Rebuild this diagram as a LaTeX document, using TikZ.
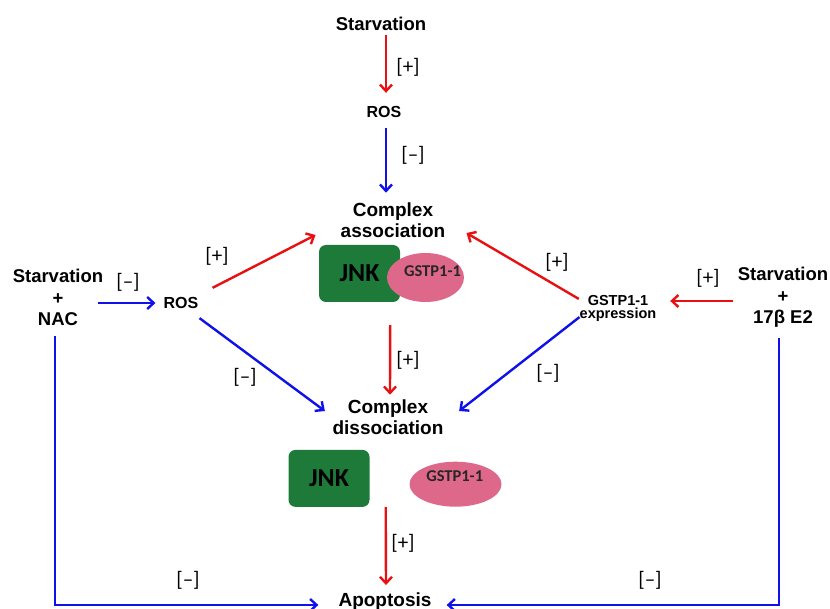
\documentclass[tikz,border=0pt]{standalone}
\usepackage{fontspec}
\setmainfont{Liberation Sans}
\newfontfamily\calfont{Carlito}
\usetikzlibrary{arrows.meta,shapes.geometric}
\definecolor{arred}{RGB}{232,16,16}
\definecolor{arblue}{RGB}{16,16,235}
\definecolor{jnkgreen}{RGB}{30,122,56}
\definecolor{gstpink}{RGB}{222,104,138}
\begin{document}
\begin{tikzpicture}[x=1pt,y=-1pt,
  lbl/.style={inner sep=0, align=center, font=\bfseries\fontsize{18.5}{21.5}\selectfont},
  lbm/.style={inner sep=0, align=center, font=\bfseries\fontsize{19}{21}\selectfont},
  lbs/.style={inner sep=0, font=\bfseries\fontsize{16}{19}\selectfont},
  lbx/.style={inner sep=0, align=center, font=\bfseries\fontsize{14.5}{13}\selectfont},
  sign/.style={inner sep=0, font=\calfont\fontsize{21}{25}\selectfont},
  jnkbox/.style={fill=jnkgreen, rounded corners=7pt, minimum width=81pt, minimum height=57pt, inner sep=0, text=black, font=\calfont\bfseries\fontsize{26}{30}\selectfont},
  gstell/.style={ellipse, fill=gstpink, minimum width=77pt, minimum height=49pt, inner sep=0},
  gsttxt/.style={inner sep=0, text=black!85, font=\calfont\bfseries\fontsize{16.5}{20}\selectfont},
  redarr/.style={draw=arred, line width=2.4pt, -{Straight Barb[length=6.5pt,width=12pt]}},
  bluarr/.style={draw=arblue, line width=2.4pt, -{Straight Barb[length=6.5pt,width=12pt]}}
]
\useasboundingbox (0,0) rectangle (830,609);

% nodes
\node[lbl] (top) at (381,24) {Starvation};
\node[lbs] (ros1) at (384,112) {ROS};
\node[lbm] (assoc) at (393,220) {Complex\\association};
\node[jnkbox] (jnk1) at (359.5,273.5) {JNK};
\node[gstell] (gst1) at (425.5,277.5) {};
\node[gsttxt] (gst1t) at (432.5,271.5) {GSTP1-1};
\node[lbl] (lgrp) at (58,297.5) {Starvation\\+\\NAC};
\node[lbs] (ros2) at (181,303) {ROS};
\node[lbx] (gexp) at (618,308.3) {GSTP1-1\\expression};
\node[lbl] (rgrp) at (783,297.4) {Starvation\\+\\17β E2};
\node[lbm] (dissoc) at (388,417.3) {Complex\\dissociation};
\node[jnkbox] (jnk2) at (329,478.4) {JNK};
\node[gstell, minimum width=92pt, minimum height=45pt] (gst2) at (455.5,484.2) {};
\node[gsttxt] (gst2t) at (454.7,476) {GSTP1-1};
\node[lbm, anchor=base] (apop) at (385,606.6) {Apoptosis};

% connectors
\draw[redarr] ([shift={(5,4.4)}]top.south) -- ([shift={(2,-13.3)}]ros1.north);
\draw[bluarr] ([shift={(2,10.3)}]ros1.south) -- ([shift={(-7,-9.6)}]assoc.north);
\draw[bluarr] ([shift={(-5.5,5.5)}]lgrp.east) -- ([shift={(-8,0)}]ros2.west);
\draw[redarr] ([shift={(14,-9.3)}]ros2.north east) -- ([shift={(-25,15)}]assoc.west);
\draw[bluarr] ([shift={(1,9.3)}]ros2.south east) -- ([shift={(-7.5,-6.3)}]dissoc.west);
\draw[redarr] ([shift={(-0.7,3.9)}]gexp.north west) -- ([shift={(21,13)}]assoc.east);
\draw[bluarr] ([shift={(0,-4.5)}]gexp.south west) -- ([shift={(15.5,-6.3)}]dissoc.east);
\draw[redarr] ([shift={(-4.5,3.6)}]rgrp.west) -- ([shift={(13.7,-7.3)}]gexp.east);
\draw[redarr] ([shift={(-10,23)}]jnk1.south east) -- ([shift={(2,-4.9)}]dissoc.north);
\draw[redarr] ([shift={(16,0)}]jnk2.south east) -- ([shift={(1,-7.6)}]apop.north);
\draw[bluarr] ([shift={(-3,10.4)}]lgrp.south) |- ([shift={(-20,-1.6)}]apop.base west);
\draw[bluarr] ([shift={(-4,10.7)}]rgrp.south) |- ([shift={(15,-1.6)}]apop.base east);

% signs
\node[sign] (s1) at (408,67) {[+]};
\node[sign] (s2) at (413,155) {[–]};
\node[sign] (s3) at (128,282) {[–]};
\node[sign] (s4) at (217,256) {[+]};
\node[sign] (s5) at (245,377) {[–]};
\node[sign] (s6) at (408,360) {[+]};
\node[sign] (s7) at (548,373) {[–]};
\node[sign] (s8) at (557,262) {[+]};
\node[sign] (s9) at (708,278) {[+]};
\node[sign] (s10) at (403,543) {[+]};
\node[sign] (s11) at (188,580) {[–]};
\node[sign] (s12) at (650,580) {[–]};
\end{tikzpicture}
\end{document}
